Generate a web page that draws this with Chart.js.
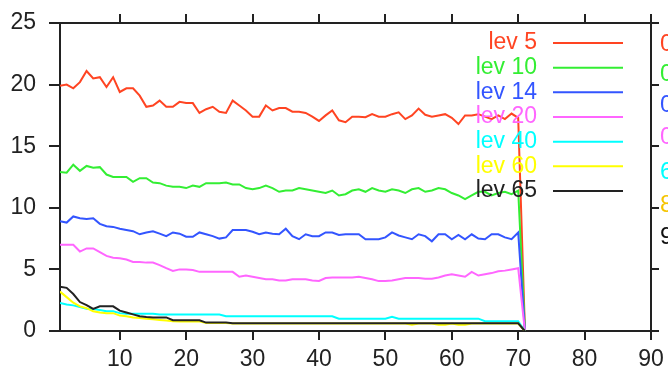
<!DOCTYPE html>
<html>
<head>
<meta charset="utf-8">
<script src="https://cdn.jsdelivr.net/npm/chart.js@4"></script>
<style>
  body { margin: 0; background: #fff; }
  #levChart { display: block; }
</style>
</head>
<body>
<canvas id="levChart" width="668" height="376"></canvas>
<script>
// time steps along x
const steps = [1,2,3,4,5,6,7,8,9,10,11,12,13,14,15,16,17,18,19,20,21,22,23,24,25,26,27,28,29,30,
  31,32,33,34,35,36,37,38,39,40,41,42,43,44,45,46,47,48,49,50,51,52,53,54,55,56,57,58,59,60,
  61,62,63,64,65,66,67,68,69,70,71];

const levLabels = ['lev 5', 'lev 10', 'lev 14', 'lev 20', 'lev 40', 'lev 60', 'lev 65'];
const levColors = ['#ff4422', '#33ee33', '#3355ff', '#ff66ff', '#00ffff', '#ffff00', '#222222'];
// first characters of the value column cut off at the right edge
const sideText = ['0', '0', '0', '0', '6', '8', '9'];
const sideColors = ['#ff4422', '#33ee33', '#3355ff', '#ff66ff', '#00ffff', '#f5c400', '#111111'];

const lev5 = [19.9,20.0,19.7,20.2,21.1,20.5,20.6,19.8,20.6,19.4,19.7,19.7,19.1,18.2,18.3,18.7,18.2,18.2,18.6,18.5,
  18.5,17.7,18.0,18.2,17.8,17.7,18.7,18.3,17.9,17.4,17.4,18.3,17.9,18.1,18.1,17.8,17.8,17.7,17.4,17.05,
  17.5,17.9,17.1,16.95,17.4,17.4,17.35,17.6,17.4,17.4,17.6,17.75,17.2,17.5,18.05,17.55,17.4,17.5,17.6,17.3,
  16.8,17.5,17.5,17.6,17.4,17.2,17.5,17.2,17.65,17.3,0.3];
const lev10 = [12.9,12.85,13.5,13.0,13.4,13.25,13.3,12.7,12.5,12.5,12.5,12.1,12.4,12.4,12.05,12.0,11.8,11.7,11.7,11.6,
  11.8,11.7,12.0,12.0,12.0,12.05,11.9,11.9,11.6,11.5,11.6,11.8,11.6,11.3,11.4,11.4,11.6,11.5,11.4,11.3,
  11.2,11.4,11.0,11.1,11.4,11.5,11.3,11.6,11.4,11.3,11.5,11.4,11.2,11.5,11.6,11.3,11.4,11.6,11.5,11.2,
  11.0,10.7,11.0,11.3,11.3,11.0,11.2,11.3,11.1,11.4,0.2];
const lev14 = [8.9,8.8,9.3,9.15,9.1,9.15,8.7,8.5,8.45,8.3,8.2,8.1,7.85,8.0,8.1,7.9,7.7,8.0,7.9,7.65,
  7.65,8.0,7.85,7.7,7.5,7.6,8.2,8.2,8.2,8.05,7.85,8.0,7.9,7.85,8.3,7.7,7.45,7.85,7.7,7.7,
  8.0,8.0,7.8,7.85,7.85,7.85,7.45,7.45,7.45,7.6,8.0,7.75,7.6,7.45,7.85,7.7,7.28,7.85,7.85,7.45,
  7.8,7.45,7.85,7.5,7.45,7.85,7.85,7.6,7.45,8.0,0.1];
const lev20 = [7.0,7.0,7.0,6.45,6.7,6.7,6.4,6.1,5.95,5.9,5.8,5.6,5.6,5.55,5.55,5.35,5.1,4.87,5.0,5.0,
  4.95,4.8,4.8,4.8,4.8,4.8,4.8,4.4,4.5,4.4,4.3,4.2,4.2,4.1,4.1,4.2,4.2,4.2,4.1,4.06,
  4.3,4.35,4.35,4.35,4.35,4.4,4.3,4.2,4.05,4.05,4.1,4.2,4.3,4.3,4.3,4.25,4.25,4.35,4.5,4.6,
  4.5,4.4,4.8,4.5,4.6,4.7,4.85,4.9,5.0,5.1,0.05];
const lev40 = [2.27,2.15,2.08,1.95,1.8,1.78,1.7,1.6,1.6,1.45,1.4,1.4,1.4,1.4,1.4,1.33,1.33,1.33,1.33,1.33,
  1.33,1.33,1.33,1.33,1.33,1.2,1.2,1.2,1.2,1.2,1.2,1.2,1.2,1.2,1.2,1.2,1.2,1.2,1.2,1.2,
  1.2,1.2,1.0,1.0,1.0,1.0,1.0,1.0,1.0,1.0,1.15,1.0,1.0,1.0,1.0,1.0,1.0,1.0,1.0,1.0,
  1.0,1.0,1.0,1.0,0.8,0.8,0.8,0.8,0.8,0.8,0.0];
const lev60 = [3.2,2.75,2.3,2.0,1.85,1.6,1.5,1.45,1.45,1.25,1.2,1.1,1.05,1.0,0.95,0.9,0.85,0.8,0.78,0.78,
  0.78,0.78,0.65,0.65,0.65,0.65,0.6,0.6,0.6,0.6,0.6,0.6,0.6,0.6,0.6,0.6,0.6,0.6,0.6,0.6,
  0.6,0.6,0.6,0.6,0.6,0.6,0.6,0.6,0.6,0.6,0.6,0.6,0.6,0.5,0.6,0.6,0.6,0.5,0.5,0.6,
  0.5,0.5,0.6,0.6,0.6,0.6,0.6,0.6,0.6,0.6,0.0];
const lev65 = [3.6,3.5,3.0,2.35,2.1,1.8,2.0,2.0,2.0,1.65,1.5,1.35,1.2,1.14,1.1,1.1,1.1,0.87,0.87,0.87,
  0.87,0.87,0.68,0.68,0.68,0.68,0.62,0.62,0.62,0.62,0.62,0.62,0.62,0.62,0.62,0.62,0.62,0.62,0.62,0.62,
  0.62,0.62,0.62,0.62,0.62,0.62,0.62,0.62,0.62,0.62,0.62,0.62,0.62,0.62,0.62,0.62,0.62,0.62,0.62,0.62,
  0.62,0.62,0.62,0.62,0.62,0.62,0.62,0.62,0.62,0.62,0.0];

const xTicks = [10, 20, 30, 40, 50, 60, 70, 80, 90];
const yTicks = [0, 5, 10, 15, 20, 25];

const levSeries = [lev5, lev10, lev14, lev20, lev40, lev60, lev65];
const FONT = '"Liberation Sans", Arial, sans-serif';
const AXIS = '#222222';

// legend: label right-aligned, sample line to its right
const legendPlugin = {
  id: 'levLegend',
  afterDatasetsDraw(chart) {
    const ctx = chart.ctx;
    ctx.save();
    ctx.font = '23px ' + FONT;
    ctx.textAlign = 'right';
    ctx.textBaseline = 'middle';
    chart.data.datasets.forEach((ds, i) => {
      const y = 43 + i * 24.67;
      ctx.fillStyle = ds.borderColor;
      ctx.fillText(ds.label, 537, y);
      ctx.strokeStyle = ds.borderColor;
      ctx.lineWidth = 2;
      ctx.beginPath();
      ctx.moveTo(553, y);
      ctx.lineTo(623, y);
      ctx.stroke();
    });
    // clipped value column at the right edge
    ctx.textAlign = 'left';
    ctx.font = '24px ' + FONT;
    const sideY = [44, 74, 105, 137, 172, 205, 237];
    sideText.forEach((t, i) => {
      ctx.fillStyle = sideColors[i];
      ctx.fillText(t, 660, sideY[i]);
    });
    ctx.restore();
  }
};

// fixed axis box sizes, no extra label padding
const fitTo = (w, h) => s => {
  if (w !== null) s.width = w;
  if (h !== null) s.height = h;
  s.paddingTop = 0; s.paddingBottom = 0; s.paddingLeft = 0; s.paddingRight = 0;
};
const gridOpts = len => ({
  drawOnChartArea: false, drawTicks: true, tickLength: len,
  color: AXIS, lineWidth: 2, tickColor: AXIS, tickWidth: 2
});

const ctx = document.getElementById('levChart').getContext('2d');
new Chart(ctx, {
  type: 'line',
  data: {
    datasets: levSeries.map((vals, i) => ({
      label: levLabels[i],
      data: steps.map((s, j) => ({ x: s, y: vals[j] })),
      borderColor: levColors[i],
      borderWidth: 2,
      pointRadius: 0,
      tension: 0,
      fill: false,
      order: -i
    }))
  },
  options: {
    responsive: false,
    animation: false,
    devicePixelRatio: 1,
    layout: { padding: 0 },
    plugins: { legend: { display: false }, tooltip: { enabled: false } },
    scales: {
      x: {
        type: 'linear', position: 'bottom', min: 1, max: 90,
        afterBuildTicks: s => { s.ticks = xTicks.map(v => ({ value: v })); },
        afterFit: fitTo(null, 45),
        border: { display: true, color: AXIS, width: 2 },
        grid: gridOpts(9),
        ticks: { color: AXIS, font: { family: FONT, size: 23 }, padding: 6, maxRotation: 0 }
      },
      xTop: {
        type: 'linear', position: 'top', min: 1, max: 90,
        afterBuildTicks: s => { s.ticks = xTicks.map(v => ({ value: v })); },
        afterFit: fitTo(null, 23),
        border: { display: true, color: AXIS, width: 2 },
        grid: gridOpts(9),
        ticks: { display: false }
      },
      y: {
        type: 'linear', position: 'left', min: 0, max: 25,
        afterBuildTicks: s => { s.ticks = yTicks.map(v => ({ value: v })); },
        afterFit: fitTo(60, null),
        border: { display: true, color: AXIS, width: 2 },
        grid: gridOpts(11),
        ticks: { color: AXIS, font: { family: FONT, size: 23 }, padding: 13 }
      },
      yRight: {
        type: 'linear', position: 'right', min: 0, max: 25,
        afterBuildTicks: s => { s.ticks = yTicks.map(v => ({ value: v })); },
        afterFit: fitTo(17, null),
        border: { display: true, color: AXIS, width: 2 },
        grid: gridOpts(8),
        ticks: { display: false }
      }
    }
  },
  plugins: [legendPlugin]
});
</script>
</body>
</html>
